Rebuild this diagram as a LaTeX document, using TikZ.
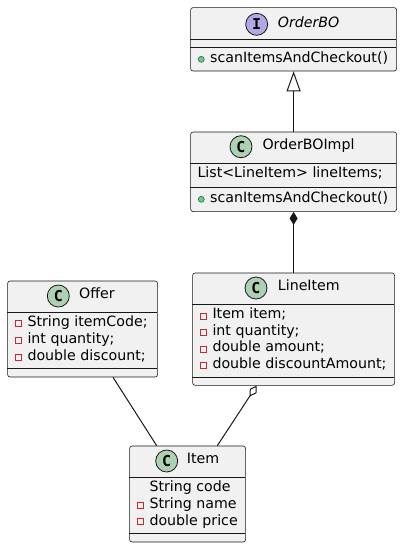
\documentclass[tikz,border=0pt]{standalone}
\usepackage{fontspec}
\setmainfont{DejaVu Sans}
\newfontfamily\iconfont{DejaVu Sans Mono}
\usetikzlibrary{arrows.meta,calc}
\definecolor{boxfill}{HTML}{F1F1F1}
\definecolor{boxline}{HTML}{181818}
\definecolor{classicon}{HTML}{ADD1B2}
\definecolor{ifaceicon}{HTML}{B4A7E5}
\definecolor{privline}{HTML}{C82930}
\definecolor{pubfill}{HTML}{84BE84}
\definecolor{publine}{HTML}{038048}
\tikzset{
  umlbox/.style={draw=boxline, fill=boxfill, line width=0.6pt, rounded corners=2.5pt, inner sep=0pt, anchor=north west},
  sepline/.style={draw=boxline, line width=0.6pt},
  headicon/.style={circle, draw=boxline, line width=0.8pt, minimum size=22pt, inner sep=0pt, font=\iconfont\bfseries\fontsize{15}{15}\selectfont},
  txt/.style={anchor=mid west, inner sep=0pt, font=\fontsize{14.2}{16}\selectfont, text=black},
  privicon/.style={draw=privline, line width=1pt, fill=none},
  pubicon/.style={circle, draw=publine, fill=pubfill, line width=0.6pt, minimum size=6pt, inner sep=0pt},
  conn/.style={draw=boxline, line width=1pt},
}
\newcommand{\privsq}[2]{%
  \coordinate (#1) at (#2);
  \draw[privicon] (#1) ++(-3,-3) -- ++(6,0) -- ++(0,6) -- ++(-6,0) -- cycle;}
\begin{document}
\begin{tikzpicture}[x=1pt,y=-1pt]
\useasboundingbox (0,0) rectangle (402,547);
% ---------- OrderBO ----------
\node[umlbox, minimum width=206pt, minimum height=63.4pt] (orderbo) at (190.3,7.3) {};
\draw[sepline] (190.3,39.3) -- (396.3,39.3);
\draw[sepline] (190.3,47.7) -- (396.3,47.7);
\node[headicon, fill=ifaceicon] (orderboicon) at (256.7,24.3) {I};
\node[txt, font=\fontsize{14.2}{16}\selectfont\itshape] (orderbotitle) at (277.7,24.3) {OrderBO};
\node[pubicon] (orderbopub) at (201.3,59.3) {};
\node[txt] (orderbometh) at (210,59.3) {scanItemsAndCheckout()};
% ---------- OrderBOImpl ----------
\node[umlbox, minimum width=206pt, minimum height=79.6pt] (impl) at (190.3,131.7) {};
\draw[sepline] (190.3,163.3) -- (396.3,163.3);
\draw[sepline] (190.3,187.3) -- (396.3,187.3);
\node[headicon, fill=classicon] (implicon) at (241,146.7) {C};
\node[txt] (impltitle) at (262.3,146.7) {OrderBOImpl};
\node[txt] (implfield) at (197.3,175) {List<LineItem> lineItems;};
\node[pubicon] (implpub) at (201.3,199.3) {};
\node[txt] (implmeth) at (210,199.3) {scanItemsAndCheckout()};
% ---------- LineItem ----------
\node[umlbox, minimum width=202pt, minimum height=112.3pt] (lineitem) at (192.3,272.7) {};
\draw[sepline] (192.3,304) -- (394.3,304);
\draw[sepline] (192.3,377.3) -- (394.3,377.3);
\node[headicon, fill=classicon] (lineitemicon) at (256,288) {C};
\node[txt] (lineitemtitle) at (277.7,288) {LineItem};
\node[txt] (lif1) at (212.3,316) {Item item;};
\node[txt] (lif2) at (212.3,332.5) {int quantity;};
\node[txt] (lif3) at (212.3,349) {double amount;};
\node[txt] (lif4) at (212.3,365.3) {double discountAmount;};
\privsq{lip1}{203.5,316.5}
\privsq{lip2}{203.5,332.5}
\privsq{lip3}{203.5,349.5}
\privsq{lip4}{203.5,365.5}
% ---------- Offer ----------
\node[umlbox, minimum width=150pt, minimum height=96pt] (offer) at (7.3,280.7) {};
\draw[sepline] (7.3,312.3) -- (157.3,312.3);
\draw[sepline] (7.3,368.7) -- (157.3,368.7);
\node[headicon, fill=classicon] (offericon) at (58.3,296) {C};
\node[txt] (offertitle) at (79,296) {Offer};
\node[txt] (of1) at (27.3,324) {String itemCode;};
\node[txt] (of2) at (27.3,340.7) {int quantity;};
\node[txt] (of3) at (27.3,357.3) {double discount;};
\privsq{op1}{18.5,323.5}
\privsq{op2}{18.5,340.5}
\privsq{op3}{18.5,357.5}
% ---------- Item ----------
\node[umlbox, minimum width=116pt, minimum height=96pt] (item) at (129.3,445.7) {};
\draw[sepline] (129.3,477.7) -- (245.3,477.7);
\draw[sepline] (129.3,533.3) -- (245.3,533.3);
\node[headicon, fill=classicon] (itemicon) at (166.7,461) {C};
\node[txt] (itemtitle) at (186.7,461) {Item};
\node[txt] (if1) at (149.3,489) {String code};
\node[txt] (if2) at (149.3,505.7) {String name};
\node[txt] (if3) at (149.3,522.3) {double price};
\privsq{ip2}{140.5,505.5}
\privsq{ip3}{140.5,521.5}
% ---------- connectors ----------
\draw[conn, -{Triangle[open, length=20pt, width=14pt, fill=white]}] (impl.north) -- (orderbo.south);
\draw[conn, -{Diamond[length=13pt, width=8pt, fill=boxline]}] (lineitem.north) -- (impl.south);
\coordinate (offerend) at ($(offer.south west)+(105.7,0)$);
\coordinate (itemleft) at ($(item.north west)+(27.4,0)$);
\draw[conn] (offerend) -- (itemleft);
\coordinate (itemright) at ($(item.north west)+(88,0)$);
\coordinate (lineitemend) at ($(lineitem.south west)+(64.4,0)$);
\draw[conn, -{Diamond[open, length=13pt, width=8pt, fill=white]}] (itemright) -- (lineitemend);
\end{tikzpicture}
\end{document}
